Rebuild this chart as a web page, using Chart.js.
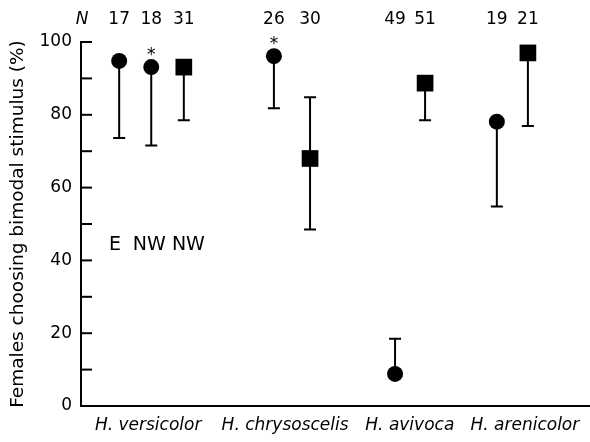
<!DOCTYPE html>
<html>
<head>
<meta charset="utf-8">
<script src="https://cdn.jsdelivr.net/npm/chart.js@4/dist/chart.umd.min.js"></script>
<style>
html,body{margin:0;padding:0;background:#fff;}
#wrap{width:590px;height:442px;}
</style>
</head>
<body>
<div id="wrap"><canvas id="c" width="590" height="442"></canvas></div>
<script>
// ---- data ----
const species = ['H. versicolor', 'H. chrysoscelis', 'H. avivoca', 'H. arenicolor'];
const speciesPos = [13.2, 40.1, 64.6, 87.2];

const circleX = [7.5, 13.8, 37.9, 61.7, 81.7];
const circleY = [94.8, 93.1, 96.1, 8.8, 78.1];
const circleLow = [73.6, 71.6, 81.8, null, 54.8];
const circleHigh = [null, null, null, 18.5, null];
const circleN = [17, 18, 26, 49, 19];
const circleStar = [false, true, true, false, false];

const squareX = [20.2, 45.0, 67.6, 87.8];
const squareY = [93.1, 68.0, 88.7, 97.0];
const squareLow = [78.5, 48.5, 78.5, 76.9];
const squareHigh = [null, 84.8, null, null];
const squareN = [31, 30, 51, 21];

const popLabels = ['E', 'NW', 'NW'];
const popLabelX = [6.7, 13.4, 21.1];
const popLabelY = 44.3;

const yTickValues = [0, 20, 40, 60, 80, 100];

// ---- chart ----
const FONT = 'DejaVu Sans';
const INK = '#000';

const extras = {
  id: 'extras',
  beforeDatasetsDraw(chart) {
    const ctx = chart.ctx, xs = chart.scales.x, ys = chart.scales.y, ca = chart.chartArea;
    ctx.save();
    ctx.strokeStyle = INK;
    ctx.lineWidth = 2;
    // inward tick marks
    ys.ticks.forEach(t => {
      const y = ys.getPixelForValue(t.value);
      ctx.beginPath();
      ctx.moveTo(ca.left, y);
      ctx.lineTo(ca.left + 11, y);
      ctx.stroke();
    });
    // error bars
    const bar = (xv, yv, ev) => {
      if (ev === null || ev === undefined) return;
      const x = xs.getPixelForValue(xv), y0 = ys.getPixelForValue(yv), y1 = ys.getPixelForValue(ev);
      ctx.beginPath();
      ctx.moveTo(x, y0); ctx.lineTo(x, y1);
      ctx.moveTo(x - 6, y1); ctx.lineTo(x + 6, y1);
      ctx.stroke();
    };
    circleX.forEach((xv, i) => { bar(xv, circleY[i], circleLow[i]); bar(xv, circleY[i], circleHigh[i]); });
    squareX.forEach((xv, i) => { bar(xv, squareY[i], squareLow[i]); bar(xv, squareY[i], squareHigh[i]); });
    ctx.restore();
  },
  afterDatasetsDraw(chart) {
    const ctx = chart.ctx, xs = chart.scales.x, ys = chart.scales.y, ca = chart.chartArea;
    ctx.save();
    ctx.fillStyle = INK;
    ctx.textAlign = 'center';
    ctx.textBaseline = 'middle';
    ctx.font = '17px "' + FONT + '"';
    const topY = 20;
    circleX.forEach((xv, i) => ctx.fillText(String(circleN[i]), xs.getPixelForValue(xv), topY));
    squareX.forEach((xv, i) => ctx.fillText(String(squareN[i]), xs.getPixelForValue(xv), topY));
    ctx.font = 'italic 17px "' + FONT + '"';
    ctx.fillText('N', ca.left + 1, topY);
    // asterisks
    ctx.font = '17px "' + FONT + '"';
    ctx.textBaseline = 'alphabetic';
    circleX.forEach((xv, i) => {
      if (circleStar[i]) ctx.fillText('*', xs.getPixelForValue(xv), ys.getPixelForValue(circleY[i]) - 7);
    });
    // population labels
    ctx.textBaseline = 'middle';
    ctx.font = '19px "' + FONT + '"';
    popLabels.forEach((t, i) => ctx.fillText(t, xs.getPixelForValue(popLabelX[i]), ys.getPixelForValue(popLabelY)));
    ctx.restore();
  }
};

new Chart(document.getElementById('c'), {
  type: 'scatter',
  data: {
    datasets: [
      {
        data: circleX.map((x, i) => ({ x: x, y: circleY[i] })),
        pointStyle: 'circle', pointRadius: 8, pointHoverRadius: 8,
        backgroundColor: INK, borderColor: INK, borderWidth: 0
      },
      {
        data: squareX.map((x, i) => ({ x: x, y: squareY[i] })),
        pointStyle: 'rect', pointRadius: 11.8, pointHoverRadius: 11.8,
        backgroundColor: INK, borderColor: INK, borderWidth: 0
      }
    ]
  },
  options: {
    responsive: false,
    animation: false,
    events: [],
    clip: false,
    layout: { autoPadding: false, padding: { top: 42, right: 0, bottom: 0, left: 0 } },
    plugins: { legend: { display: false }, tooltip: { enabled: false } },
    scales: {
      x: {
        type: 'linear', min: 0, max: 100,
        afterFit: s => { s.height = 36; s.paddingLeft = 0; s.paddingRight = 0; },
        afterBuildTicks: axis => { axis.ticks = speciesPos.map(v => ({ value: v })); },
        ticks: {
          autoSkip: false, maxRotation: 0, padding: 9, color: INK,
          font: { family: FONT, size: 17, style: 'italic' },
          callback: (v, i) => species[i]
        },
        grid: { drawOnChartArea: false, drawTicks: false },
        border: { display: true, color: INK, width: 2 }
      },
      y: {
        min: 0, max: 100,
        afterFit: s => { s.width = 81; s.paddingTop = 0; s.paddingBottom = 0; },
        ticks: {
          stepSize: 10, padding: 9, color: INK,
          font: { family: FONT, size: 17 },
          callback: v => (yTickValues.includes(v) ? String(v) : '')
        },
        grid: { drawOnChartArea: false, drawTicks: false },
        border: { display: true, color: INK, width: 2 },
        title: {
          display: true, text: 'Females choosing bimodal stimulus (%)', color: INK,
          font: { family: FONT, size: 18.5 }, padding: { top: 7, bottom: 0 }
        }
      }
    }
  },
  plugins: [extras]
});
</script>
</body>
</html>
